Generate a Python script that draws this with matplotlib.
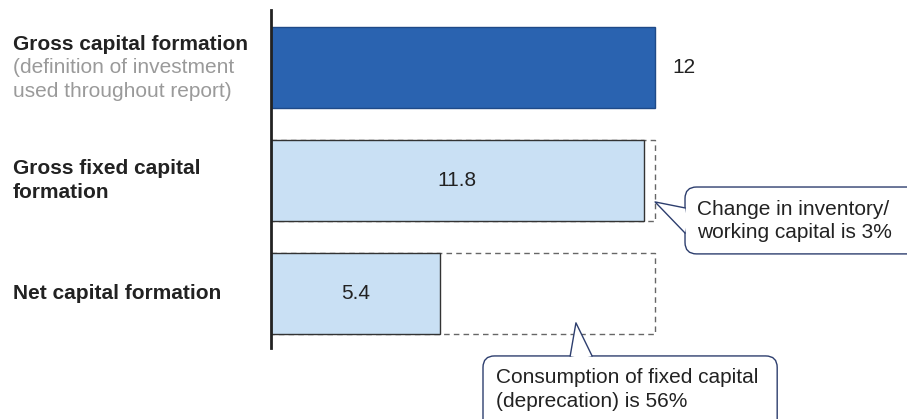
import matplotlib.pyplot as plt
from matplotlib.patches import FancyBboxPatch, Polygon
import matplotlib.transforms as mtransforms

plt.rcParams['font.family'] = ['Liberation Sans', 'DejaVu Sans']

# bar lengths as share of gross capital formation (%), and the printed values
categories = ['Gross capital formation', 'Gross fixed capital\nformation', 'Net capital formation']
shares = [100, 97, 44]
value_labels = ['12', '11.8', '5.4']
subtitle = '(definition of investment\nused throughout report)'
callout_texts = ['Change in inventory/\nworking capital is 3%',
                 'Consumption of fixed capital\n(deprecation) is 56%']

dark_blue = '#2A63B0'
light_blue = '#C9E0F4'
navy = '#2D3E6E'
fs = 15
ls = 1.3

fig = plt.figure(figsize=(9.07, 4.19), dpi=100)
ax = fig.add_axes([271 / 907, 0, 636 / 907, 1])
ax.set_xlim(0, 165.6)
ax.set_ylim(3.111, -0.597)

ypos = list(range(len(categories)))
h = 0.71

# dashed outline showing the full gross capital formation
ax.barh(ypos[1:], [shares[0]] * 2, height=h, fill=False, edgecolor='#666666',
        linestyle=(0, (4, 3)), linewidth=1.0, zorder=1)
ax.barh(ypos[0], shares[0], height=h, color=dark_blue, edgecolor='#1F4A88', linewidth=1.0, zorder=2)
ax.barh(ypos[1:], shares[1:], height=h, color=light_blue, edgecolor='#333333', linewidth=1.0, zorder=2)

ax.text(shares[0] + 4.5, ypos[0], value_labels[0], va='center', ha='left', fontsize=fs, color='#222222')
for i in (1, 2):
    ax.text(shares[i] / 2, ypos[i], value_labels[i], va='center', ha='center', fontsize=fs, color='#222222')

# axis line only
for s in ['top', 'right', 'bottom']:
    ax.spines[s].set_visible(False)
ax.spines['left'].set_linewidth(2)
ax.spines['left'].set_color('#222222')
ax.spines['left'].set_bounds(-0.51, 2.48)
ax.set_xticks([])
ax.set_yticks([])

# category labels
trans = mtransforms.blended_transform_factory(fig.transFigure, ax.transData)
ax.text(13 / 907, ypos[0] - 0.2, categories[0], transform=trans, ha='left', va='center',
        fontsize=fs, fontweight='bold', color='#222222')
ax.text(13 / 907, ypos[0] + 0.106, subtitle, transform=trans, ha='left', va='center',
        fontsize=fs, color='#9A9A9A', linespacing=ls)
for i in (1, 2):
    ax.text(13 / 907, ypos[i], categories[i], transform=trans, ha='left', va='center',
            fontsize=fs, fontweight='bold', color='#222222', linespacing=ls)

aspect = 3.84 / 113


def callout(x0, y0, w, hh, tip, base1, base2, inner):
    box = FancyBboxPatch((x0, y0), w, hh, boxstyle='round,pad=0,rounding_size=3',
                         mutation_aspect=aspect, facecolor='white', edgecolor=navy,
                         linewidth=1.0, zorder=4, clip_on=False)
    ax.add_patch(box)
    ax.add_patch(Polygon([tip, base1, inner[0], inner[1], base2], closed=True,
                         facecolor='white', edgecolor='none', zorder=5, clip_on=False))
    ax.plot([base1[0], tip[0], base2[0]], [base1[1], tip[1], base2[1]],
            color=navy, linewidth=1.0, zorder=6, clip_on=False)


# inventory callout
callout(107.8, 1.058, 62, 0.592, (shares[0], 1.19), (107.8, 1.243), (107.8, 1.465),
        [(109, 1.465), (109, 1.243)])
ax.text(110.9, 1.358, callout_texts[0], ha='left', va='center', fontsize=fs,
        color='#222222', linespacing=ls, zorder=7)

# depreciation callout
callout(55.2, 2.553, 76.6, 0.7, (79.4, 2.26), (77.9, 2.553), (83.6, 2.553),
        [(83.6, 2.6), (77.9, 2.6)])
ax.text(58.6, 2.85, callout_texts[1], ha='left', va='center', fontsize=fs,
        color='#222222', linespacing=ls, zorder=7)

fig.savefig('out.png', dpi=100)
